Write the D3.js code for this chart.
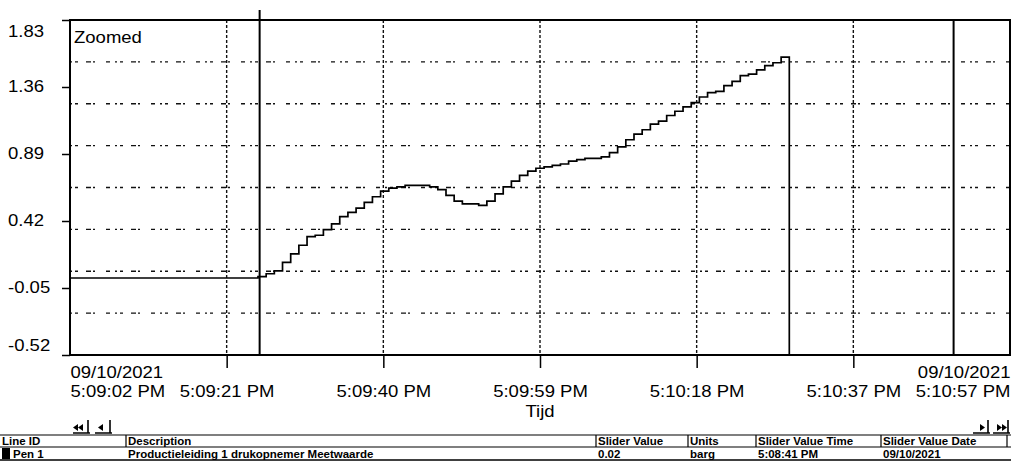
<!DOCTYPE html>
<html>
<head>
<meta charset="utf-8">
<script src="https://cdn.jsdelivr.net/npm/d3@7"></script>
<style>
    body { margin: 0; background: #fff; }
    text { font-family: "Liberation Sans", Arial, sans-serif; fill: #000; }
    .tbl text { font-family: "Liberation Sans Narrow", "Arial Narrow", "Liberation Sans", sans-serif; font-weight: bold; font-size: 11.5px; }
</style>
</head>
<body>
<div id="trend"></div>
<script>
// trend window and axis ticks
const viewStart = "17:09:02";
const viewEnd = "17:10:57";
const xTickIntervals = 6;
const yTicks = [1.83, 1.36, 0.89, 0.42, -0.05, -0.52];
const yGridDivisions = 8;

// Pen 1 samples (barg), one per second from sampleStart
const priorSample = {time: "17:08:41", value: 0.02};
const sampleStart = "17:09:25";
const sampleStepMs = 1000;
const penValues = [
    0.03, 0.05, 0.07, 0.13, 0.19, 0.25, 0.31, 0.32, 0.36, 0.40,
    0.45, 0.48, 0.51, 0.55, 0.59, 0.63, 0.65, 0.66, 0.67, 0.67,
    0.67, 0.66, 0.64, 0.60, 0.56, 0.54, 0.54, 0.53, 0.56, 0.61,
    0.66, 0.70, 0.74, 0.77, 0.79, 0.80, 0.81, 0.82, 0.84, 0.85,
    0.86, 0.86, 0.87, 0.90, 0.94, 0.99, 1.03, 1.06, 1.10, 1.12,
    1.16, 1.19, 1.22, 1.25, 1.29, 1.32, 1.33, 1.37, 1.40, 1.44,
    1.45, 1.48, 1.51, 1.53, 1.57,
];

// zoom cursors
const cursorTimes = ["17:09:25.2", "17:10:50.1"];

// legend table
const tableColumns = ["Line ID", "Description", "Slider Value", "Units", "Slider Value Time", "Slider Value Date"];
const tableRow = ["Pen 1", "Productieleiding 1 drukopnemer Meetwaarde", "0.02", "barg", "5:08:41 PM", "09/10/2021"];

const labelSize = 17;
const labelStretch = 1.09;

function at(hms) {
    const [h, m, s] = hms.split(":").map(Number);
    return new Date(2021, 8, 10, h, m, Math.floor(s), Math.round((s % 1) * 1000));
}

function trendPlot(config) {
    const width = config.width;
    const height = config.height;
    const margin = {top: 20, right: 1, bottom: 118, left: 70};
    const innerW = width - margin.left - margin.right;
    const innerH = height - margin.top - margin.bottom;

    const svg = d3.select(config.parent)
        .append("svg")
        .attr("width", width)
        .attr("height", height);

    const t0 = at(viewStart);
    const t1 = at(viewEnd);
    const xScale = d3.scaleTime().domain([t0, t1]).range([0, innerW]);
    const yScale = d3.scaleLinear().domain([d3.min(yTicks), d3.max(yTicks)]).range([innerH, 0]);

    const plot = svg.append("g")
        .attr("transform", `translate(${margin.left},${margin.top})`);

    svg.append("defs").append("clipPath").attr("id", "plot-clip")
        .append("rect").attr("width", innerW).attr("height", innerH);

    // grid
    const [yMin, yMax] = yScale.domain();
    const hGrid = d3.range(1, yGridDivisions).map((j) => yMin + j * (yMax - yMin) / yGridDivisions);
    const xTicks = d3.range(xTickIntervals + 1).map((i) => new Date(+t0 + i * (t1 - t0) / xTickIntervals));

    plot.append("g")
        .selectAll("line")
        .data(hGrid)
        .join("line")
        .attr("x1", 0)
        .attr("x2", innerW)
        .attr("y1", (d) => yScale(d))
        .attr("y2", (d) => yScale(d))
        .attr("stroke", "#111")
        .attr("stroke-width", 1.4)
        .attr("stroke-dasharray", "2,3,3,8,5,2,2,11,4,5");

    plot.append("g")
        .selectAll("line")
        .data(xTicks.slice(1, -1))
        .join("line")
        .attr("x1", (d) => xScale(d))
        .attr("x2", (d) => xScale(d))
        .attr("y1", 0)
        .attr("y2", innerH)
        .attr("stroke", "#111")
        .attr("stroke-width", 1.4)
        .attr("stroke-dasharray", "3,2");

    // pen line
    const points = [{t: at(priorSample.time), v: priorSample.value}]
        .concat(penValues.map((v, i) => ({t: new Date(+at(sampleStart) + i * sampleStepMs), v: v})))
        .concat([{t: new Date(+at(sampleStart) + penValues.length * sampleStepMs), v: yMin}]);

    plot.append("path")
        .datum(points)
        .attr("clip-path", "url(#plot-clip)")
        .attr("d", d3.line().curve(d3.curveStepAfter).x((d) => xScale(d.t)).y((d) => yScale(d.v)))
        .attr("fill", "none")
        .attr("stroke", "#000")
        .attr("stroke-width", 1.7);

    // cursors
    plot.append("g")
        .selectAll("line")
        .data(cursorTimes.map(at))
        .join("line")
        .attr("x1", (d) => xScale(d))
        .attr("x2", (d) => xScale(d))
        .attr("y1", (d, i) => i === 0 ? -10 : 0)
        .attr("y2", innerH)
        .attr("stroke", "#000")
        .attr("stroke-width", 2);

    // frame
    plot.append("rect")
        .attr("width", innerW)
        .attr("height", innerH)
        .attr("fill", "none")
        .attr("stroke", "#000")
        .attr("stroke-width", 2);

    // y axis
    const yFmt = (d) => d3.format(".2f")(d).replace("\u2212", "-");
    const yAxis = plot.append("g")
        .call(d3.axisLeft(yScale).tickValues(yTicks).tickSize(8).tickFormat(yFmt));
    yAxis.select(".domain").remove();
    yAxis.selectAll(".tick line").attr("stroke", "#000").attr("stroke-width", 1.5);
    yAxis.selectAll(".tick text")
        .attr("x", (8 - margin.left) / labelStretch)
        .attr("dy", null)
        .attr("dominant-baseline", "middle")
        .attr("text-anchor", "start")
        .attr("font-size", labelSize)
        .attr("font-family", null)
        .attr("transform", (d) => {
            const y = yScale(d);
            const shifted = Math.max(12, Math.min(innerH - 9, y));
            return `translate(0,${shifted - y}) scale(${labelStretch},1)`;
        });

    // x axis
    const timeFmt = d3.timeFormat("%-I:%M:%S %p");
    const dateFmt = d3.timeFormat("%m/%d/%Y");
    const xAxis = plot.append("g")
        .attr("transform", `translate(0,${innerH})`)
        .call(d3.axisBottom(xScale).tickValues(xTicks).tickSize(13).tickFormat(""));
    xAxis.select(".domain").remove();
    xAxis.selectAll(".tick line")
        .attr("stroke", "#000")
        .attr("stroke-width", 1.5)
        .attr("opacity", (d, i) => i === 0 || i === xTicks.length - 1 ? 0 : 1);
    xAxis.selectAll(".tick").each(function(d, i) {
        const last = xTicks.length - 1;
        const anchor = i === 0 ? "start" : i === last ? "end" : "middle";
        const g = d3.select(this);
        g.select("text").remove();
        const lines = i === 0 || i === last ? [dateFmt(d), timeFmt(d)] : [timeFmt(d)];
        g.selectAll("text.lbl")
            .data(lines)
            .join("text")
            .classed("lbl", true)
            .attr("text-anchor", anchor)
            .attr("font-size", labelSize)
            .attr("transform", `scale(${labelStretch},1)`)
            .attr("y", (_, k) => 42 - (lines.length - 1 - k) * 18.5)
            .text((s) => s);
    });

    plot.append("text")
        .attr("transform", `translate(${innerW / 2},${innerH + 62}) scale(${labelStretch},1)`)
        .attr("text-anchor", "middle")
        .attr("font-size", labelSize)
        .text("Tijd");

    plot.append("text")
        .attr("transform", `translate(4,23) scale(${labelStretch},1)`)
        .attr("font-size", labelSize)
        .text("Zoomed");

    // scroll buttons
    const buttons = [
        {x: 73, dir: -1, n: 2},
        {x: 95, dir: -1, n: 1},
        {x: 973, dir: 1, n: 1},
        {x: 993, dir: 1, n: 2},
    ];
    const nav = svg.append("g").selectAll("g")
        .data(buttons)
        .join("g")
        .attr("transform", (d) => `translate(${d.x},419)`);
    nav.append("path")
        .attr("d", (d) => {
            let p = "";
            for (let k = 0; k < d.n; k++) {
                const cx = 16 - 6 - (d.n - 1 - k) * 5 - (d.n === 1 ? 2 : 0);
                p += d.dir < 0
                    ? `M${cx - 5},8.5 L${cx},5 L${cx},12 Z`
                    : `M${cx - 1},5 L${cx + 4},8.5 L${cx - 1},12 Z`;
            }
            return p;
        })
        .attr("fill", "#000");
    nav.append("path")
        .attr("d", "M15,1 V14 M0,14 H17")
        .attr("stroke", "#000")
        .attr("stroke-width", 1.6)
        .attr("fill", "none");

    // legend table
    const colX = [2, 128, 598, 690, 758, 883];
    const tbl = svg.append("g").classed("tbl", true);
    tbl.selectAll("line.h")
        .data([435, 447, 460])
        .join("line")
        .classed("h", true)
        .attr("x1", 0).attr("x2", width)
        .attr("y1", (d) => d).attr("y2", (d) => d)
        .attr("stroke", "#000")
        .attr("stroke-width", (d, i) => i === 2 ? 1.5 : 1.2);
    tbl.selectAll("line.v")
        .data(colX.slice(1).map((x) => x - 2).concat([1007]))
        .join("line")
        .classed("v", true)
        .attr("x1", (d) => d).attr("x2", (d) => d)
        .attr("y1", 435).attr("y2", 447)
        .attr("stroke", "#000")
        .attr("stroke-width", 1.2);
    tbl.selectAll("text.hd")
        .data(tableColumns)
        .join("text")
        .classed("hd", true)
        .attr("x", (d, i) => colX[i])
        .attr("y", 444.5)
        .text((d) => d);
    tbl.append("rect")
        .attr("x", 2).attr("y", 448)
        .attr("width", 8).attr("height", 11)
        .attr("fill", "#000");
    tbl.selectAll("text.row")
        .data(tableRow)
        .join("text")
        .classed("row", true)
        .attr("x", (d, i) => i === 0 ? 13 : colX[i])
        .attr("y", 457.5)
        .attr("font-size", (d, i) => i === 1 ? "12.5px" : null)
        .text((d) => d);
}

trendPlot({parent: "#trend", width: 1011, height: 473});
</script>
</body>
</html>
